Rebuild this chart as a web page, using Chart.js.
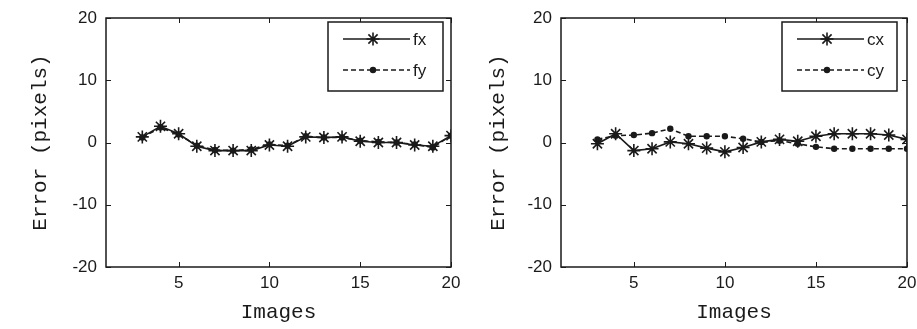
<!DOCTYPE html>
<html>
<head>
<meta charset="utf-8">
<script src="https://cdn.jsdelivr.net/npm/chart.js@4/dist/chart.umd.min.js"></script>
<style>
  html, body { margin: 0; padding: 0; background: #fff; }
  body { width: 917px; height: 329px; position: relative; overflow: hidden; }
  canvas { position: absolute; top: 0; }
  #left { left: 0; }
  #right { left: 458px; }
</style>
</head>
<body>
<canvas id="left" width="472" height="329"></canvas>
<canvas id="right" width="459" height="329"></canvas>
<script>
// image index (x) and reprojection error per parameter
const images = [3, 4, 5, 6, 7, 8, 9, 10, 11, 12, 13, 14, 15, 16, 17, 18, 19, 20];
const fx = [0.9, 2.6, 1.4, -0.6, -1.3, -1.3, -1.3, -0.4, -0.6, 0.9, 0.8, 0.9, 0.2, 0.0, 0.0, -0.4, -0.6, 1.1];
const fy = [0.8, 2.4, 1.3, -0.5, -1.2, -1.3, -1.1, -0.3, -0.5, 1.0, 0.8, 0.8, 0.3, 0.1, 0.0, -0.3, -0.8, 1.1];
const cx = [-0.2, 1.4, -1.3, -1.0, 0.1, -0.2, -0.9, -1.5, -0.8, 0.1, 0.5, 0.2, 1.0, 1.4, 1.4, 1.4, 1.2, 0.5];
const cy = [0.5, 1.1, 1.2, 1.5, 2.2, 1.0, 1.0, 1.0, 0.6, 0.1, 0.3, -0.2, -0.7, -1.0, -1.0, -1.0, -1.0, -1.0];
const xTicks = [5, 10, 15, 20];
const yTicks = [-20, -10, 0, 10, 20];

const ink = '#1a1a1a';
const tickFont = { family: 'Liberation Sans, Arial, sans-serif', size: 17 };
const titleFont = { family: 'Liberation Mono, monospace', size: 21 };

// matlab style box with inward ticks, plus the legend in the corner
const matlabBox = {
  id: 'matlabBox',
  afterDraw(chart, args, opts) {
    const { ctx, chartArea: a, scales } = chart;
    ctx.save();
    ctx.strokeStyle = ink;
    ctx.lineWidth = 1.5;
    ctx.strokeRect(a.left, a.top, a.right - a.left, a.bottom - a.top);
    ctx.lineWidth = 1;
    const tl = 5;
    ctx.beginPath();
    scales.x.ticks.forEach(t => {
      const px = Math.round(scales.x.getPixelForValue(t.value)) + 0.5;
      ctx.moveTo(px, a.bottom); ctx.lineTo(px, a.bottom - tl);
      ctx.moveTo(px, a.top); ctx.lineTo(px, a.top + tl);
    });
    scales.y.ticks.forEach(t => {
      const py = Math.round(scales.y.getPixelForValue(t.value)) + 0.5;
      ctx.moveTo(a.left, py); ctx.lineTo(a.left + tl, py);
      ctx.moveTo(a.right, py); ctx.lineTo(a.right - tl, py);
    });
    ctx.stroke();

    // legend
    const bx = a.right - opts.right - opts.w, by = a.top + opts.top;
    ctx.fillStyle = '#fff';
    ctx.fillRect(bx, by, opts.w, opts.h);
    ctx.lineWidth = 1.5;
    ctx.strokeRect(bx, by, opts.w, opts.h);
    chart.data.datasets.forEach((ds, i) => {
      const y = by + 17 + i * 31;
      const x0 = bx + 15, x1 = bx + 82;
      ctx.strokeStyle = ink;
      ctx.fillStyle = ink;
      ctx.lineWidth = ds.borderWidth;
      ctx.setLineDash(ds.borderDash || []);
      ctx.beginPath(); ctx.moveTo(x0, y); ctx.lineTo(x1, y); ctx.stroke();
      ctx.setLineDash([]);
      Chart.helpers.drawPoint(ctx, {
        pointStyle: ds.pointStyle, radius: ds.pointRadius, borderWidth: ds.pointBorderWidth
      }, bx + 45, y);
      ctx.font = '17px Liberation Sans, Arial, sans-serif';
      ctx.textBaseline = 'middle';
      ctx.fillText(ds.label, x1 + 3, y + 1);
    });
    ctx.restore();
  }
};

function series(label, values, solid) {
  return {
    label: label,
    data: images.map((x, i) => ({ x: x, y: values[i] })),
    borderColor: ink,
    backgroundColor: ink,
    borderWidth: 1.6,
    borderDash: solid ? [] : [5, 3],
    pointStyle: solid ? 'star' : 'circle',
    pointRadius: solid ? 6.5 : 2.4,
    pointBorderWidth: 1.6,
    tension: 0
  };
}

function makeChart(id, datasets, padLeft, padRight, legendRight) {
  return new Chart(document.getElementById(id), {
    type: 'line',
    data: { datasets: datasets },
    plugins: [matlabBox],
    options: {
      responsive: false,
      animation: false,
      devicePixelRatio: 1,
      layout: { padding: { left: 0, right: padRight, top: 18, bottom: 0 } },
      plugins: {
        legend: { display: false },
        tooltip: { enabled: false },
        matlabBox: { w: 115, h: 69, right: legendRight, top: 4 }
      },
      scales: {
        x: {
          type: 'linear', min: 1, max: 20,
          afterBuildTicks: s => { s.ticks = xTicks.map(v => ({ value: v })); },
          afterFit: s => { s.height = 62; s.paddingLeft = 0; s.paddingRight = 0; },
          grid: { display: false, drawTicks: false },
          border: { display: false },
          ticks: { color: ink, font: tickFont, padding: 6, maxRotation: 0 },
          title: { display: true, text: 'Images', color: ink, font: titleFont, padding: { top: 0, bottom: 4 } }
        },
        y: {
          min: -20, max: 20,
          afterBuildTicks: s => { s.ticks = yTicks.map(v => ({ value: v })); },
          afterFit: s => { s.width = padLeft; s.paddingTop = 0; s.paddingBottom = 0; },
          grid: { display: false, drawTicks: false },
          border: { display: false },
          ticks: { color: ink, font: tickFont, padding: 9 },
          title: { display: true, text: 'Error (pixels)', color: ink, font: titleFont, padding: { top: 28, bottom: 0 } }
        }
      }
    }
  });
}

makeChart('left', [series('fx', fx, true), series('fy', fy, false)], 106, 21, 8);
makeChart('right', [series('cx', cx, true), series('cy', cy, false)], 103, 10, 10);
</script>
</body>
</html>
